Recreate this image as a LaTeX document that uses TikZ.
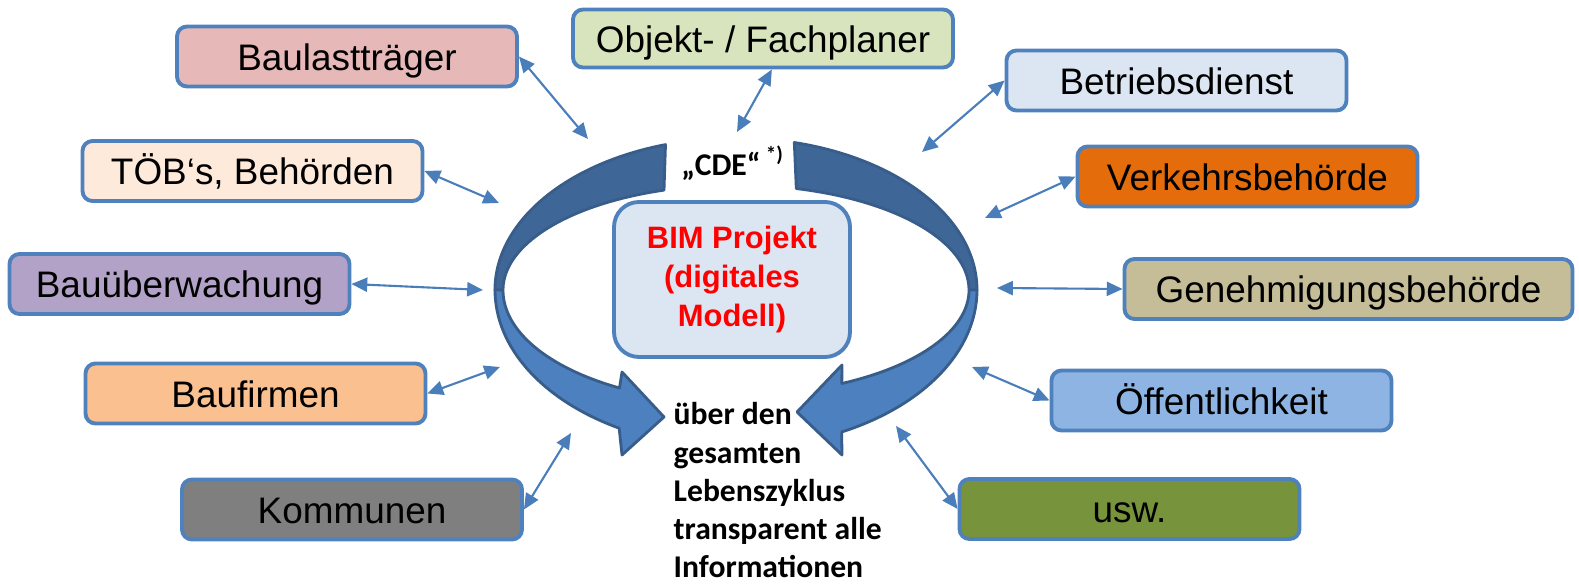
\documentclass[tikz,border=0pt]{standalone}
\usepackage{fontspec}
\setmainfont{Liberation Sans}
\newfontfamily\calibri{Carlito}
\usetikzlibrary{arrows.meta}

\definecolor{boxline}{HTML}{4F81BD}
\definecolor{linkblue}{HTML}{4A7EBB}
\definecolor{loopline}{HTML}{385D8A}
\definecolor{loopdark}{HTML}{3E6696}
\definecolor{looplight}{HTML}{4D80BE}
\definecolor{fillbaulast}{HTML}{E6B9B8}
\definecolor{fillobjekt}{HTML}{D7E4BD}
\definecolor{fillbetrieb}{HTML}{DCE6F2}
\definecolor{filltoeb}{HTML}{FDEADA}
\definecolor{fillverkehr}{HTML}{E46C0A}
\definecolor{fillbauueb}{HTML}{B3A2C7}
\definecolor{fillgenehm}{HTML}{C4BD97}
\definecolor{fillbaufirm}{HTML}{FAC090}
\definecolor{filloeffent}{HTML}{8EB4E3}
\definecolor{fillkommun}{HTML}{7F7F7F}
\definecolor{fillusw}{HTML}{77933C}

\begin{document}
\begin{tikzpicture}[
  partner/.style={draw=boxline, line width=1.1pt, rounded corners=0.1cm,
    minimum width=3.4cm, minimum height=0.6cm, inner sep=0pt,
    text height=9.9pt, text depth=2.2pt,
    font=\fontsize{10.5}{12.6}\selectfont},
  link/.style={draw=linkblue, line width=0.6pt,
    {Triangle[length=4.5pt,width=4pt]}-{Triangle[length=4.5pt,width=4pt]}},
  loopback/.style={draw=loopline, fill=loopdark, line width=0.8pt, line join=round},
  loopfront/.style={draw=loopline, fill=looplight, line width=0.8pt, line join=round}
]
\useasboundingbox (0,0) rectangle (15.79,-5.87);

% partner boxes, left side
\node[partner, fill=fillbaulast] (baulast) at (3.47,-0.565) {Baulastträger};
\node[partner, fill=filltoeb] (toeb) at (2.525,-1.71) {TÖB‘s, Behörden};
\node[partner, fill=fillbauueb] (bauueb) at (1.795,-2.84) {Bauüberwachung};
\node[partner, fill=fillbaufirm] (baufirm) at (2.555,-3.935) {Baufirmen};
\node[partner, fill=fillkommun] (kommun) at (3.52,-5.095) {Kommunen};

% partner boxes, top and right side
\node[partner, fill=fillobjekt, minimum width=3.8cm, minimum height=0.58cm] (objekt) at (7.63,-0.385) {Objekt- / Fachplaner};
\node[partner, fill=fillbetrieb] (betrieb) at (11.765,-0.805) {Betriebsdienst};
\node[partner, fill=fillverkehr] (verkehr) at (12.475,-1.765) {Verkehrsbehörde};
\node[partner, fill=fillgenehm, minimum width=4.48cm] (genehm) at (13.485,-2.89) {Genehmigungsbehörde};
\node[partner, fill=filloeffent] (oeffent) at (12.215,-4.005) {Öffentlichkeit};
\node[partner, fill=fillusw] (usw) at (11.295,-5.09) {usw.};

% left loop arrow
\draw[loopback] (6.655,-1.446) arc[start angle=107, end angle=180, x radius=2.41cm, y radius=1.52cm]
  -- (5.03,-2.90) arc[start angle=180, end angle=108, x radius=2.33cm, y radius=1.05cm] -- cycle;
\draw[loopfront] (4.95,-2.90) arc[start angle=180, end angle=241, x radius=2.41cm, y radius=1.58cm]
  -- (6.22,-4.55) -- (6.64,-4.17) -- (6.22,-3.72) -- (6.195,-3.88)
  arc[start angle=240, end angle=180, x radius=2.33cm, y radius=1.13cm] -- cycle;

% right loop arrow
\draw[loopback] (7.943,-1.425) arc[start angle=76, end angle=0, x radius=2.41cm, y radius=1.52cm]
  -- (9.69,-2.90) arc[start angle=0, end angle=75, x radius=2.33cm, y radius=1.05cm] -- cycle;
\draw[loopfront] (9.77,-2.90) arc[start angle=0, end angle=-64, x radius=2.41cm, y radius=1.58cm]
  -- (8.42,-4.55) -- (7.97,-4.12) -- (8.42,-3.65) -- (8.418,-3.835)
  arc[start angle=-63, end angle=0, x radius=2.33cm, y radius=1.05cm] -- cycle;

% centre
\node[draw=boxline, fill=fillbetrieb, line width=1.1pt, rounded corners=0.25cm,
  minimum width=2.36cm, minimum height=1.55cm, align=center, text=red,
  font=\bfseries\fontsize{8.8}{11.1}\selectfont] (bim) at (7.32,-2.795) {BIM Projekt\\(digitales\\Modell)};
\node[font=\calibri\bfseries\fontsize{9}{11}\selectfont] (cde) at (7.33,-1.63) {„CDE“\,\textsuperscript{*)}};
\node[anchor=base west, align=left, inner sep=0pt,
  font=\calibri\bfseries\fontsize{9}{10.9}\selectfont] (zyklus) at (6.73,-5.78)
  {über den\\gesamten\\Lebenszyklus\\transparent alle\\Informationen};

% free ends of the connectors
\coordinate (end_baulast) at (5.88,-1.39);
\coordinate (end_objekt) at (7.37,-1.32);
\coordinate (end_betrieb) at (9.22,-1.52);
\coordinate (end_toeb) at (4.99,-2.03);
\coordinate (end_verkehr) at (9.85,-2.18);
\coordinate (end_bauueb) at (4.83,-2.90);
\coordinate (end_genehm) at (9.97,-2.88);
\coordinate (end_baufirm) at (5.00,-3.67);
\coordinate (end_oeffent) at (9.72,-3.67);
\coordinate (end_kommun) at (5.71,-4.33);
\coordinate (end_usw) at (8.96,-4.26);

% connectors
\draw[link] (baulast.east) -- (end_baulast);
\draw[link] (objekt.-74) -- (end_objekt);
\draw[link] (betrieb.west) -- (end_betrieb);
\draw[link] (toeb.east) -- (end_toeb);
\draw[link] (verkehr.west) -- (end_verkehr);
\draw[link] (bauueb.east) -- (end_bauueb);
\draw[link] (genehm.west) -- (end_genehm);
\draw[link] (baufirm.east) -- (end_baufirm);
\draw[link] (oeffent.west) -- (end_oeffent);
\draw[link] (kommun.east) -- (end_kommun);
\draw[link] (usw.west) -- (end_usw);

\end{tikzpicture}
\end{document}
